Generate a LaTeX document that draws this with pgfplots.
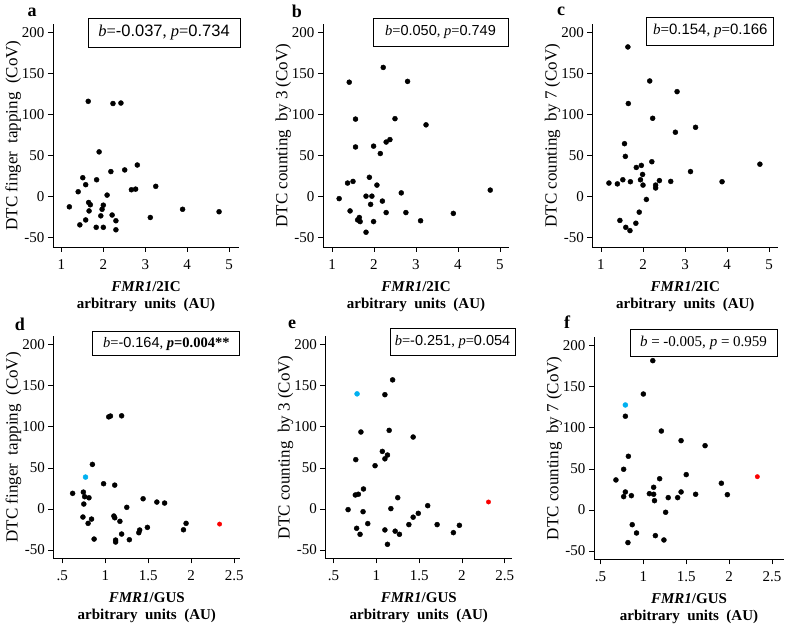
\documentclass[border=0pt]{standalone}
\usepackage{fontspec}
\setmainfont{Liberation Serif}
\newfontfamily\arial{Liberation Sans}
\usepackage{pgfplots}
\pgfplotsset{compat=1.18}

\definecolor{ptblue}{RGB}{0,176,240}
\definecolor{ptred}{RGB}{250,0,0}

\newcommand{\sn}[1]{{\arial #1}}
\newcommand{\fs}[1]{\fontsize{#1}{#1}\selectfont}

\pgfplotsset{
  panel/.style={
    scale only axis,
    axis lines=left,
    axis line style={-, line width=0.7pt},
    tick align=outside,
    major tick length=5pt,
    tick style={black, line width=0.7pt},
    ytick={-50,0,50,100,150,200},
    tick label style={font=\fs{15}},
    /pgf/number format/assume math mode=true,
    xticklabel style={yshift=-4pt},
    ylabel style={font=\fs{17}, yshift=-6pt},
    xlabel style={font=\fontsize{15}{17}\selectfont\bfseries, align=center, yshift=-5pt},
    clip=false,
  },
  toprow/.style={panel, width=186pt, height=223pt, ymin=-62, ymax=210,
    xtick={1,2,3,4,5},
    xlabel={\textit{FMR1}/2IC\\arbitrary\ \ units\ \ (AU)}},
  botrow/.style={panel, width=187pt, height=222pt, ymin=-60, ymax=210,
    xtick={0.5,1,1.5,2,2.5}, xticklabels={.5,1,1.5,2,2.5},
    xlabel={\textit{FMR1}/GUS\\arbitrary\ \ units\ \ (AU)}},
  dots/.style={only marks, mark=*, mark size=2.5pt, black, mark options={draw=black, fill=black}},
  bdot/.style={only marks, mark=*, mark size=2.5pt, mark options={draw=ptblue, fill=ptblue}},
  rdot/.style={only marks, mark=*, mark size=2.2pt, mark options={draw=ptred, fill=ptred}},
}

\begin{document}
\begin{tikzpicture}
\useasboundingbox (0,0) rectangle (787pt,624pt);

% ---- a ----
\begin{axis}[toprow, at={(53pt,377pt)}, anchor=south west, xmin=0.80, xmax=5.235,
  ylabel={DTC finger\ \ tapping\ \ (CoV)}]
\addplot[dots] table {
1.64 115.7
2.23 113
2.42 113.6
1.90 54
1.51 22.5
1.84 20
1.58 14
2.18 30
2.51 32
2.81 38
1.40 5.4
2.09 1.3
2.67 7.8
2.77 8.6
3.25 12
1.19 -13
1.65 -7.7
1.69 -10.5
2.00 -11
1.97 -16
1.66 -18
1.94 -24
2.21 -23
1.58 -29
2.30 -30
3.12 -26
3.89 -16
4.76 -19
1.44 -35
1.83 -38
2.00 -38
2.30 -41
};
\end{axis}

% ---- b ----
\begin{axis}[toprow, at={(323pt,377pt)}, anchor=south west, xmin=0.785, xmax=5.217,
  ylabel={DTC counting\ \ by 3 (CoV)}]
\addplot[dots] table {
2.22 157
1.41 139
2.80 140
1.56 94
2.50 94.5
3.24 87
2.38 69
2.29 66
1.56 60
1.99 61
2.15 52
1.89 23
1.50 18
1.37 16
2.07 13.5
1.17 -3
1.81 0
1.95 0
2.65 4
4.77 7.4
2.20 -6
1.92 -10
1.43 -18
2.29 -20
2.76 -20
3.89 -21
1.65 -26
1.61 -29
1.67 -31
1.99 -31
3.11 -30
1.81 -44
};
\end{axis}

% ---- c ----
\begin{axis}[toprow, at={(592.3pt,377pt)}, anchor=south west, xmin=0.794, xmax=5.218,
  ylabel={DTC counting\ \ by 7 (CoV)}]
\addplot[dots] table {
1.64 182
2.16 140.5
2.81 127.5
1.65 113
2.23 95
3.25 84
2.77 78
1.56 64
1.58 48.5
2.21 42
4.78 39
1.96 37.5
1.84 35
3.13 30
1.99 26.5
1.52 20
1.94 20
2.39 19
2.66 18
3.88 17.6
1.19 16
1.39 15
1.70 17.6
2.00 13.5
2.30 13.5
2.30 10
2.08 -4
1.91 -19.5
1.45 -29.6
1.83 -33
1.59 -38
1.69 -42
};
\end{axis}

% ---- d ----
\begin{axis}[botrow, at={(53.3pt,65.7pt)}, anchor=south west, xmin=0.395, xmax=2.571,
  ylabel={DTC finger\ \ tapping\ \ (CoV)}]
\addplot[dots] table {
1.04 112
1.06 113
1.19 113.3
0.85 54.2
0.98 30.7
1.11 29
0.62 19
0.745 20.5
0.76 14.9
0.81 13.6
0.75 6
1.44 12.4
1.60 8.4
1.69 7.2
1.25 2
0.74 -9.8
0.84 -12.3
0.80 -17.5
1.10 -8.6
1.11 -10.7
1.17 -15
1.49 -22.4
1.40 -25.6
1.39 -28.9
1.19 -30.5
1.94 -17.5
1.91 -25.3
0.87 -36.6
1.12 -37.8
1.12 -40.2
1.28 -37.4
};
\addplot[bdot] coordinates {(0.77,38.8)};
\addplot[rdot] coordinates {(2.33,-18.4)};
\end{axis}

% ---- e ----
\begin{axis}[botrow, at={(325.3pt,65.7pt)}, anchor=south west, xmin=0.404, xmax=2.588,
  ylabel={DTC counting\ \ by 3 (CoV)}]
\addplot[dots] table {
1.10 139
1.19 157
0.82 93.6
1.15 95.6
1.43 87.5
1.07 70
1.13 65.6
1.10 61
0.76 60
0.985 52.6
0.85 24.3
0.755 17
0.79 17.9
0.67 -0.8
0.845 -3.3
0.90 -17.8
0.77 -23.5
0.81 -30.8
1.25 13.7
1.17 0.4
1.10 -25.5
1.22 -27
1.27 -30.8
1.13 -43
1.60 4
1.49 -5.3
1.43 -10
1.38 -19
1.71 -19
1.97 -19.9
1.90 -28.8
};
\addplot[bdot] coordinates {(0.775,140)};
\addplot[rdot] coordinates {(2.31,8.5)};
\end{axis}

% ---- f ----
\begin{axis}[botrow, at={(594pt,64.7pt)}, anchor=south west, xmin=0.424, xmax=2.641,
  width=190pt, ylabel={DTC counting\ \ by 7 (CoV)}]
\addplot[dots] table {
1.11 181.6
1.00 141
0.79 114
1.21 96
1.44 84.3
1.72 78.2
0.825 65.3
0.77 49.5
0.68 36.5
1.19 38
1.50 43
1.91 32.5
1.12 27.6
0.79 21.9
0.77 16.2
0.86 17.4
1.07 19.8
1.12 19.1
1.13 11.3
1.29 15
1.40 15
1.44 21.9
1.61 19.1
1.98 18.6
1.26 -2.8
0.87 -17.9
0.92 -28
0.82 -39.7
1.14 -31.2
1.24 -36.5
};
\addplot[bdot] coordinates {(0.79,127.7)};
\addplot[rdot] coordinates {(2.33,40.5)};
\end{axis}

% ---- panel letters ----
\begin{scope}[every node/.style={font=\fs{18}\bfseries}]
\node at (32pt,612pt) {a};
\node at (297pt,613pt) {b};
\node at (561pt,613pt) {c};
\node at (20pt,300pt) {d};
\node at (292pt,300pt) {e};
\node at (567pt,302pt) {f};
\end{scope}

% ---- statistics boxes ----
\begin{scope}[every node/.style={draw, line width=0.7pt, inner sep=0pt}]
\node[minimum width=152pt, minimum height=29pt, font=\fs{16.5}] at (164pt,591.5pt)
  {\textit{b}=\sn{-0.037}, \textit{p}=\sn{0.734}};
\node[minimum width=135pt, minimum height=28pt, font=\fs{14.5}] at (440.5pt,592pt)
  {\textit{b}=\sn{0.050}, \textit{p}=\sn{0.749}};
\node[minimum width=127pt, minimum height=28pt, font=\fs{15}] at (710.3pt,593pt)
  {\textit{b}=\sn{0.154}, \textit{p}=\sn{0.166}};
\node[minimum width=147pt, minimum height=23.5pt, font=\fs{14.5}] at (166.3pt,280.5pt)
  {\textit{b}=\sn{-0.164}, \textbf{\textit{p}=0.004**}};
\node[minimum width=125pt, minimum height=27pt, font=\fs{14.5}] at (452.5pt,282.5pt)
  {\textit{b}=\sn{-0.251}, \textit{p}=\sn{0.054}};
\node[minimum width=147pt, minimum height=27pt, font=\fs{15}] at (703.5pt,281.5pt)
  {\textit{b} = -0.005, \textit{p} = 0.959};
\end{scope}
\end{tikzpicture}
\end{document}
